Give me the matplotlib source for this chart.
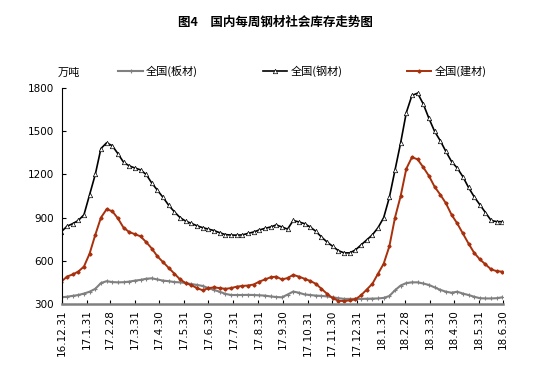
import matplotlib
matplotlib.use('Agg')
import matplotlib.pyplot as plt
import pandas as pd

plt.rcParams['font.family'] = ['Noto Sans CJK SC', 'DejaVu Sans']

# weekly dates
dates = pd.date_range('2016-12-30', periods=79, freq='7D')

plate = [346, 350, 356, 362, 372, 385, 405, 445, 458, 452,
         450, 451, 455, 462, 467, 475, 478, 470, 462, 458,
         452, 450, 445, 438, 432, 425, 410, 397, 385, 370,
         362, 362, 362, 363, 362, 360, 358, 352, 348, 346,
         365, 386, 378, 366, 362, 358, 356, 352, 346, 340,
         335, 335, 335, 335, 336, 337, 338, 342, 355, 395,
         428, 445, 450, 450, 442, 432, 415, 398, 385, 378,
         385, 372, 362, 350, 340, 338, 338, 340, 346]

steel = [802, 840, 858, 880, 920, 1060, 1200, 1380, 1420, 1400,
         1345, 1285, 1260, 1245, 1232, 1200, 1140, 1090, 1040, 985,
         940, 900, 875, 860, 843, 830, 820, 810, 795, 782,
         779, 778, 780, 790, 800, 814, 825, 835, 849, 835,
         820, 880, 870, 858, 835, 805, 765, 730, 700, 670,
         655, 655, 675, 710, 745, 780, 830, 900, 1040, 1230,
         1420, 1630, 1750, 1765, 1690, 1590, 1500, 1435, 1360, 1290,
         1245, 1185, 1110, 1045, 990, 935, 880, 872, 872]

rebar = [455, 490, 505, 525, 560, 650, 780, 900, 958, 945,
         895, 830, 800, 785, 770, 730, 685, 630, 590, 550,
         510, 470, 445, 430, 410, 395, 410, 415, 410, 405,
         410, 420, 425, 428, 435, 455, 470, 485, 490, 470,
         480, 502, 490, 475, 460, 440, 405, 370, 340, 322,
         320, 325, 332, 360, 400, 440, 510, 580, 700, 900,
         1050, 1240, 1320, 1305, 1250, 1190, 1115, 1060, 1000, 920,
         860, 790, 720, 655, 610, 575, 540, 528, 524]

tick_dates = pd.to_datetime(['2016-12-31', '2017-01-31', '2017-02-28', '2017-03-31',
                             '2017-04-30', '2017-05-31', '2017-06-30', '2017-07-31',
                             '2017-08-31', '2017-09-30', '2017-10-31', '2017-11-30',
                             '2017-12-31', '2018-01-31', '2018-02-28', '2018-03-31',
                             '2018-04-30', '2018-05-31', '2018-06-30'])
tick_labels = ['16.12.31', '17.1.31', '17.2.28', '17.3.31', '17.4.30', '17.5.31',
               '17.6.30', '17.7.31', '17.8.31', '17.9.30', '17.10.31', '17.11.30',
               '17.12.31', '18.1.31', '18.2.28', '18.3.31', '18.4.30', '18.5.31',
               '18.6.30']
yticks = [300, 600, 900, 1200, 1500, 1800]

fig = plt.figure(figsize=(5.5, 3.72), dpi=100)
ax = fig.add_axes([0.113, 0.183, 0.802, 0.580])

ax.plot(dates, plate, color='#808080', lw=1.5, marker='+', markersize=3.5,
        markeredgewidth=0.8, label='全国(板材)')
ax.plot(dates, steel, color='black', lw=1.2, marker='^', markersize=3.2,
        markerfacecolor='white', markeredgewidth=0.5, label='全国(钢材)')
ax.plot(dates, rebar, color='#A8300C', lw=1.4, marker='D', markersize=1.6,
        label='全国(建材)')

ax.set_xlim(tick_dates[0], tick_dates[-1])
ax.set_ylim(300, 1800)
ax.set_yticks(yticks)
ax.set_xticks(tick_dates)
ax.set_xticklabels(tick_labels, rotation=90, fontsize=7.5, family='DejaVu Sans')
ax.set_yticklabels([str(v) for v in yticks], fontsize=7.5, family='DejaVu Sans')
ax.tick_params(axis='both', direction='in', length=3, width=0.8, pad=4)
ax.tick_params(axis='y', pad=6)

for s in ['top', 'right']:
    ax.spines[s].set_visible(False)
ax.spines['left'].set_color('black')
ax.spines['left'].set_linewidth(0.8)
ax.spines['bottom'].set_color('#808080')
ax.spines['bottom'].set_linewidth(1.8)

fig.text(0.5, 0.94, '图4　国内每周钢材社会库存走势图', ha='center', va='center',
         fontsize=9, fontweight='bold')
fig.text(0.125, 0.805, '万吨', ha='center', va='center', fontsize=8)

fig.legend(loc='center', bbox_to_anchor=(0.55, 0.808), ncol=3, frameon=False,
           fontsize=8, handlelength=2.2, handletextpad=0.3, columnspacing=5.8,
           borderaxespad=0)

fig.savefig('out.png', dpi=100)
